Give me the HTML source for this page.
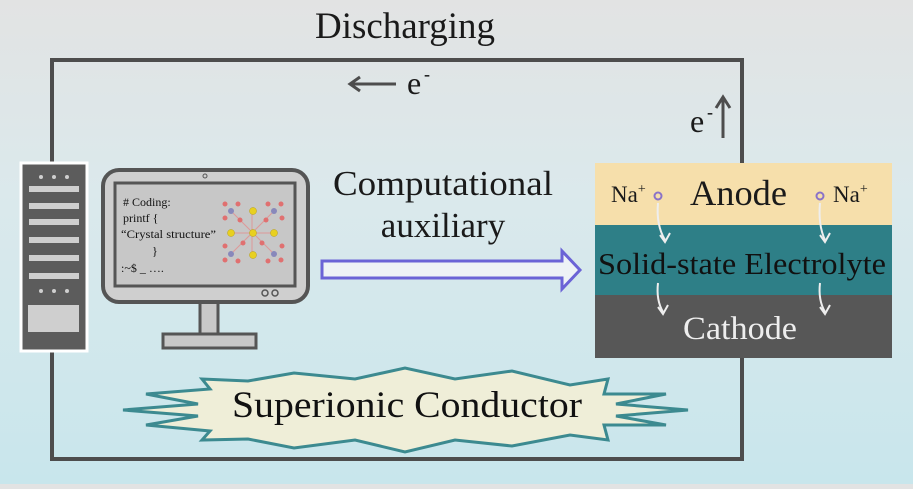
<!DOCTYPE html>
<html><head><meta charset="utf-8"><style>
html,body{margin:0;padding:0}
body{width:913px;height:484px;overflow:hidden;background:linear-gradient(#e2e3e3 0%,#dbe9ec 40%,#c8e6ec 100%);font-family:"Liberation Serif",serif}
</style></head><body>
<svg width="913" height="484" viewBox="0 0 913 484" xmlns="http://www.w3.org/2000/svg" font-family="Liberation Serif, serif">
<rect x="52" y="60" width="690" height="399" fill="none" stroke="#4d4d4d" stroke-width="4"/>
<text x="315" y="38" font-size="37" textLength="180" lengthAdjust="spacingAndGlyphs" fill="#1a1a1a">Discharging</text>
<line x1="352" y1="84" x2="396" y2="84" stroke="#4d4d4d" stroke-width="3"/>
<path d="M360,77 L350,84 L360,91" fill="none" stroke="#4d4d4d" stroke-width="3"/>
<text x="407" y="94" font-size="32" fill="#1a1a1a">e</text><text x="424" y="80" font-size="18">-</text>
<text x="690" y="132" font-size="32" fill="#1a1a1a">e</text><text x="707" y="118" font-size="18">-</text>
<line x1="723" y1="138" x2="723" y2="100" stroke="#4d4d4d" stroke-width="3"/>
<path d="M716,108 L723,97 L730,108" fill="none" stroke="#4d4d4d" stroke-width="3"/>
<!-- server -->
<rect x="21" y="163" width="66" height="188" fill="#5c5c5c" stroke="#fff" stroke-width="3"/>
<g fill="#cfcfcf"><circle cx="41" cy="177" r="2"/><circle cx="54" cy="177" r="2"/><circle cx="67" cy="177" r="2"/>
<circle cx="41" cy="291" r="2"/><circle cx="54" cy="291" r="2"/><circle cx="67" cy="291" r="2"/>
<rect x="29" y="186" width="50" height="6"/><rect x="29" y="203" width="50" height="6"/><rect x="29" y="219" width="50" height="6"/><rect x="29" y="237" width="50" height="6"/><rect x="29" y="255" width="50" height="6"/><rect x="29" y="273" width="50" height="6"/>
<rect x="28" y="305" width="51" height="27"/></g>
<!-- monitor -->
<rect x="200" y="300" width="18" height="36" fill="#c8c8c8" stroke="#555" stroke-width="3"/>
<rect x="163" y="334" width="93" height="14" fill="#c8c8c8" stroke="#555" stroke-width="3"/>
<rect x="103" y="170" width="205" height="132" rx="16" fill="#cfcfcf" stroke="#555" stroke-width="4"/>
<rect x="115" y="183" width="180" height="103" fill="#c7c7c7" stroke="#555" stroke-width="3"/>
<circle cx="205" cy="176" r="2" fill="none" stroke="#555"/>
<circle cx="265" cy="293" r="3" fill="none" stroke="#555" stroke-width="1.5"/><circle cx="275" cy="293" r="3" fill="none" stroke="#555" stroke-width="1.5"/>
<g font-size="12" fill="#111"><text x="123" y="206"># Coding:</text><text x="123" y="222">printf {</text><text x="121" y="238" textLength="95" lengthAdjust="spacingAndGlyphs">“Crystal structure”</text><text x="152" y="255">}</text><text x="121" y="272">:~$ _ ….</text></g>
<g stroke="#d99" stroke-width="1"><line x1="231" y1="211" x2="274" y2="254"/><line x1="274" y1="211" x2="231" y2="254"/><line x1="231" y1="233" x2="274" y2="233"/><line x1="252" y1="211" x2="252" y2="255"/></g>
<g fill="#e07070"><circle cx="225" cy="204" r="2.5"/><circle cx="238" cy="204" r="2.5"/><circle cx="268" cy="204" r="2.5"/><circle cx="281" cy="204" r="2.5"/><circle cx="225" cy="218" r="2.5"/><circle cx="240" cy="220" r="2.5"/><circle cx="266" cy="220" r="2.5"/><circle cx="282" cy="218" r="2.5"/><circle cx="243" cy="243" r="2.5"/><circle cx="262" cy="243" r="2.5"/><circle cx="225" cy="246" r="2.5"/><circle cx="282" cy="246" r="2.5"/><circle cx="225" cy="260" r="2.5"/><circle cx="238" cy="261" r="2.5"/><circle cx="268" cy="261" r="2.5"/><circle cx="281" cy="260" r="2.5"/></g>
<g fill="#8888bb"><circle cx="231" cy="211" r="3"/><circle cx="274" cy="211" r="3"/><circle cx="231" cy="254" r="3"/><circle cx="274" cy="254" r="3"/></g>
<g fill="#e8d020" stroke="#b9a010" stroke-width=".5"><circle cx="253" cy="211" r="3.5"/><circle cx="231" cy="233" r="3.5"/><circle cx="253" cy="233" r="3.5"/><circle cx="274" cy="233" r="3.5"/><circle cx="253" cy="255" r="3.5"/></g>
<!-- arrow -->
<text x="333" y="195" font-size="35" textLength="220" lengthAdjust="spacingAndGlyphs" fill="#1a1a1a">Computational</text>
<text x="443" y="237" font-size="35" text-anchor="middle" fill="#1a1a1a">auxiliary</text>
<path d="M322,261 L562,261 L562,251 L580,270 L562,289 L562,278 L322,278 Z" fill="#eef2f6" stroke="#6b63d6" stroke-width="3"/>
<!-- battery -->
<rect x="595" y="163" width="297" height="62" fill="#f6dfab"/>
<rect x="595" y="225" width="297" height="70" fill="#2e7f87"/>
<rect x="595" y="295" width="297" height="63" fill="#575757"/>
<text x="690" y="205" font-size="36" textLength="97" lengthAdjust="spacingAndGlyphs" fill="#1a1a1a">Anode</text>
<text x="611" y="202" font-size="23" fill="#1a1a1a">Na<tspan font-size="14" dy="-9">+</tspan></text>
<text x="833" y="202" font-size="23" fill="#1a1a1a">Na<tspan font-size="14" dy="-9">+</tspan></text>
<circle cx="658" cy="196" r="3.5" fill="none" stroke="#8a72c8" stroke-width="2"/>
<circle cx="820" cy="196" r="3.5" fill="none" stroke="#8a72c8" stroke-width="2"/>
<text x="598" y="274" font-size="31" textLength="288" lengthAdjust="spacingAndGlyphs" fill="#111">Solid-state Electrolyte</text>
<text x="683" y="339" font-size="33" textLength="114" lengthAdjust="spacingAndGlyphs" fill="#eee">Cathode</text>
<g fill="none" stroke="#eee" stroke-width="2"><path d="M658,203 Q656,225 665,240"/><path d="M660,235 L665,242 L670,233"/><path d="M820,203 Q818,225 825,240"/><path d="M820,235 L825,242 L830,233"/>
<path d="M658,283 Q656,300 663,312"/><path d="M658,307 L663,314 L668,305"/><path d="M820,283 Q818,300 825,312"/><path d="M820,307 L825,314 L830,305"/></g>
<!-- star -->
<polygon points="123,410 198,404 146,394 210,389 202,379 248,381 294,373 355,379 405,368 455,379 512,371 570,385 608,379 604,394 666,394 616,404 688,410 616,416 666,425 604,425 608,440 570,435 512,446 455,440 405,452 355,440 294,448 248,439 202,440 210,431 146,425 198,416" fill="#efeed8" stroke="#3c8a90" stroke-width="3" stroke-linejoin="miter"/>
<text x="232" y="417" font-size="37" textLength="350" lengthAdjust="spacingAndGlyphs" fill="#111">Superionic Conductor</text>
</svg>
</body></html>
